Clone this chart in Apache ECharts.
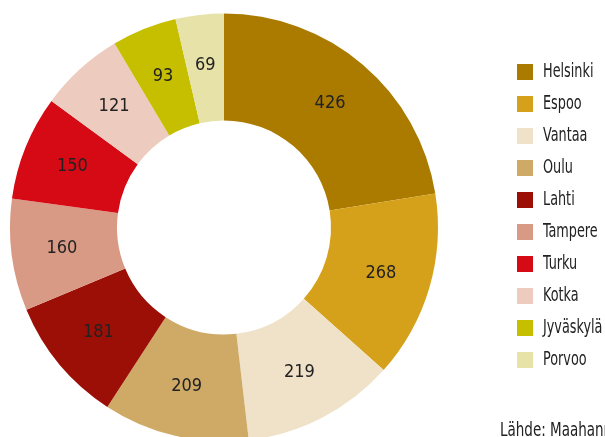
<!DOCTYPE html>
<html>
<head>
<meta charset="utf-8">
<script src="https://cdn.jsdelivr.net/npm/echarts@6/dist/echarts.min.js"></script>
<style>
  html, body { margin: 0; padding: 0; background: #fff; }
  #chart { width: 605px; height: 437px; }
</style>
</head>
<body>
<div id="chart"></div>
<script>
const cities = ['Helsinki', 'Espoo', 'Vantaa', 'Oulu', 'Lahti', 'Tampere', 'Turku', 'Kotka', 'Jyväskylä', 'Porvoo']
const counts = [426, 268, 219, 209, 181, 160, 150, 121, 93, 69]
const colors = ['#AB7B00', '#D6A11A', '#F0E2C8', '#CFAA66', '#9C0F07', '#D89A84', '#D50A14', '#EDCBBE', '#C5BF00', '#E6E2A8']
const source = 'Lähde: Maahanmuuttovirasto'

const font = '"DejaVu Sans Condensed", "DejaVu Sans", sans-serif'
// no condensed face narrow enough, so legend names get squeezed a bit
const squeeze = 0.75
const legendTop = 64
const legendStep = 32

const chart = echarts.init(document.getElementById('chart'), null, { renderer: 'canvas' })

const legendTexts = cities.map((name, i) => ({
  type: 'text',
  x: 543,
  y: legendTop + 8 + i * legendStep,
  scaleX: squeeze,
  silent: true,
  style: { text: name, fontSize: 19, fontFamily: font, fill: '#222', verticalAlign: 'middle' }
}))

chart.setOption({
  animation: false,
  color: colors,
  legend: {
    orient: 'vertical',
    left: 512,
    top: legendTop - 5,
    itemWidth: 16,
    itemHeight: 16,
    itemGap: legendStep - 16,
    icon: 'rect',
    data: cities,
    formatter: () => '',
    textStyle: { fontSize: 10 }
  },
  graphic: legendTexts.concat([{
    type: 'text',
    x: 500,
    y: 441,
    scaleX: squeeze,
    silent: true,
    style: { text: source, fontSize: 20, fontFamily: font, fill: '#222', verticalAlign: 'bottom' }
  }]),
  series: [{
    type: 'pie',
    center: [224, 227.5],
    radius: [107, 214],
    startAngle: 90,
    clockwise: true,
    avoidLabelOverlap: false,
    label: {
      show: true,
      position: 'inside',
      formatter: '{c}',
      fontFamily: font,
      fontSize: 18,
      color: '#222'
    },
    labelLine: { show: false },
    emphasis: { disabled: true },
    data: cities.map((name, i) => ({ name, value: counts[i] }))
  }]
})
</script>
</body>
</html>
